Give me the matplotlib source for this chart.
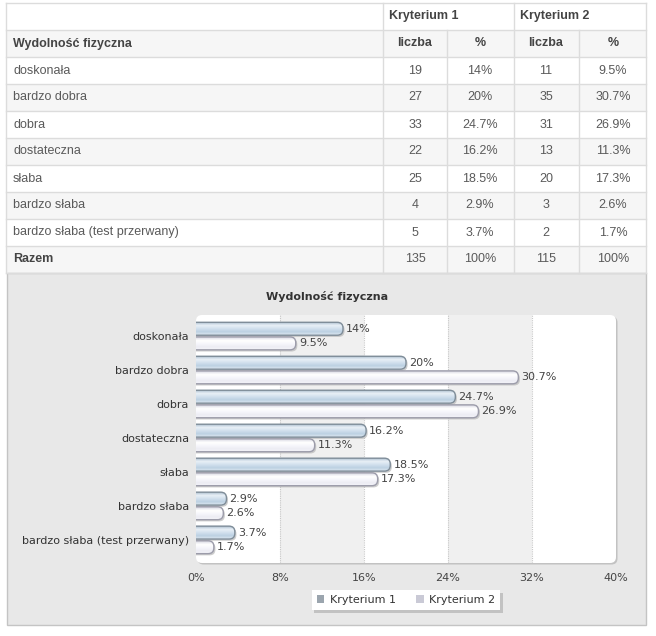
import matplotlib.pyplot as plt
import numpy as np
from matplotlib.patches import Rectangle, FancyBboxPatch, Patch
from matplotlib.colors import to_rgb

# Data
categories = ['doskonała', 'bardzo dobra', 'dobra', 'dostateczna', 'słaba',
              'bardzo słaba', 'bardzo słaba (test przerwany)']
k1_count = [19, 27, 33, 22, 25, 4, 5]
k1_pct = [14, 20, 24.7, 16.2, 18.5, 2.9, 3.7]
k2_count = [11, 35, 31, 13, 20, 3, 2]
k2_pct = [9.5, 30.7, 26.9, 11.3, 17.3, 2.6, 1.7]
totals = [135, 115]
series_names = ['Kryterium 1', 'Kryterium 2']
x_ticks = [0, 8, 16, 24, 32, 40]
title = 'Wydolność fizyczna'

TABLE_FONT = ['Liberation Sans', 'DejaVu Sans']
CHART_FONT = ['DejaVu Sans']

fig = plt.figure(figsize=(6.56, 6.36), dpi=100)
fig.patch.set_facecolor('white')

# Background axes in pixel coordinates for the table and chart panel
bg = fig.add_axes([0, 0, 1, 1])
bg.set_xlim(0, 656)
bg.set_ylim(636, 0)
bg.axis('off')

# --- Table ---
row_h = 27
top = 3
left, right = 6, 646
col_edges = [383, 447, 514, 579]
col_centers = [415, 480, 546, 613]
line_c = '#dcdcdc'
text_c = '#5a5a5a'
head_c = '#444444'

n_rows = 3 + len(categories)
for i in range(n_rows):
    y0 = top + i * row_h
    fc = '#f6f6f6' if i % 2 == 1 else 'white'
    bg.add_patch(Rectangle((left, y0), right - left, row_h, facecolor=fc,
                           edgecolor='none', zorder=1))
    bg.plot([left, right], [y0, y0], color=line_c, lw=1, zorder=2)
bg.plot([left, right], [top + n_rows * row_h] * 2, color=line_c, lw=1, zorder=2)
bg.plot([left, left], [top, top + n_rows * row_h], color=line_c, lw=1, zorder=2)
bg.plot([right, right], [top, top + n_rows * row_h], color=line_c, lw=1, zorder=2)
for j, xe in enumerate(col_edges):
    y_start = top if j % 2 == 0 else top + row_h
    bg.plot([xe, xe], [y_start, top + n_rows * row_h], color=line_c, lw=1, zorder=2)

def cell(x, row, s, ha='center', bold=False):
    bg.text(x, top + row * row_h + row_h / 2, s, ha=ha, va='center',
            fontsize=9, family=TABLE_FONT, color=head_c if bold else text_c,
            fontweight='bold' if bold else 'normal', zorder=3)

cell(389, 0, series_names[0], ha='left', bold=True)
cell(520, 0, series_names[1], ha='left', bold=True)
cell(13, 1, title, ha='left', bold=True)
for cx, s in zip(col_centers, ['liczba', '%', 'liczba', '%']):
    cell(cx, 1, s, bold=True)
for i, cat in enumerate(categories):
    r = i + 2
    cell(13, r, cat, ha='left')
    vals = [str(k1_count[i]), f'{k1_pct[i]:g}%', str(k2_count[i]), f'{k2_pct[i]:g}%']
    for cx, s in zip(col_centers, vals):
        cell(cx, r, s)
r = n_rows - 1
cell(13, r, 'Razem', ha='left', bold=True)
for cx, s in zip(col_centers, [str(totals[0]), '100%', str(totals[1]), '100%']):
    cell(cx, r, s)

# --- Chart panel ---
panel_top = top + n_rows * row_h
bg.add_patch(Rectangle((7, panel_top), 639, 625 - panel_top, facecolor='#e8e8e8',
                       edgecolor='#c4c4c4', lw=1, zorder=1))
bg.text(327, 297, title, ha='center', va='center', fontsize=8,
        fontweight='bold', family=CHART_FONT, color='#333333', zorder=3)

# plot area: shadow + rounded white background
bg.add_patch(FancyBboxPatch((197.5, 316.5), 420, 248, boxstyle='round,pad=0,rounding_size=6',
                            facecolor='#c2c2c2', edgecolor='none', zorder=2))
bg.add_patch(FancyBboxPatch((196, 315), 420, 248, boxstyle='round,pad=0,rounding_size=6',
                            facecolor='white', edgecolor='none', zorder=2.5))

ax = fig.add_axes([196 / 656, (636 - 563) / 636, 420 / 656, 248 / 636])
ax.patch.set_visible(False)
for s in ax.spines.values():
    s.set_visible(False)

y = np.arange(len(categories))
ax.set_xlim(x_ticks[0], x_ticks[-1])
ax.set_ylim(6.68, -0.62)

# alternating vertical bands and dotted grid
for a, b in zip(x_ticks[1::2], x_ticks[2::2]):
    ax.axvspan(a, b, color='#f0f0f0', zorder=0, lw=0)
for xt in x_ticks[1:-1]:
    ax.axvline(xt, color='#c8c8c8', ls=(0, (1, 1)), lw=0.8, zorder=0.5)

bh = 0.38
off = 0.215
b1 = ax.barh(y - off, k1_pct, height=bh, color='none', edgecolor='none', zorder=2)
b2 = ax.barh(y + off, k2_pct, height=bh, color='none', edgecolor='none', zorder=2)

# x units per px vs y units per px, for circular rounding
aspect = (7.3 / 248) / (40 / 420)
grad1 = ['#a9bccd', '#e9f0f7', '#d3e1ee', '#bcd0e2', '#dce7f1']
grad2 = ['#d8d8e2', '#ffffff', '#f7f7fc', '#ececf4', '#f4f4f9']

def styled_bars(bars, grad, edge):
    cols = np.array([to_rgb(c) for c in grad])
    t = np.linspace(0, 1, len(grad))
    tt = np.linspace(0, 1, 40)
    img = np.stack([np.interp(tt, t, cols[:, k]) for k in range(3)], axis=1)[:, None, :]
    for bar in bars:
        x0, y0 = bar.get_x(), bar.get_y()
        w, h = bar.get_width(), bar.get_height()
        start = x0 - 1.0
        # soft shadow
        sh = FancyBboxPatch((start + 0.15, y0 + 0.05), w - start, h,
                            boxstyle='round,pad=0,rounding_size=0.55',
                            mutation_aspect=aspect, facecolor='#b8b8b8',
                            edgecolor='none', zorder=1.5, alpha=0.7)
        ax.add_patch(sh)
        fb = FancyBboxPatch((start, y0), w - start, h,
                            boxstyle='round,pad=0,rounding_size=0.55',
                            mutation_aspect=aspect, facecolor='none',
                            edgecolor=edge, lw=1, zorder=2.2)
        ax.add_patch(fb)
        im = ax.imshow(img, extent=(start, x0 + w, y0 + h, y0), origin='upper',
                       aspect='auto', interpolation='bilinear', zorder=2.1)
        im.set_clip_path(fb)

styled_bars(b1, grad1, '#7f8d99')
styled_bars(b2, grad2, '#9c9caa')
ax.set_xlim(x_ticks[0], x_ticks[-1])
ax.set_ylim(6.68, -0.62)

for bars, vals in ((b1, k1_pct), (b2, k2_pct)):
    for bar, v in zip(bars, vals):
        ax.text(bar.get_width() + 0.3, bar.get_y() + bar.get_height() / 2,
                f'{v:g}%', va='center', ha='left', fontsize=8,
                family=CHART_FONT, color='#444444', zorder=3)

ax.set_yticks(y)
ax.set_yticklabels(categories, fontsize=8, family=CHART_FONT, color='#333333')
ax.set_xticks(x_ticks)
ax.set_xticklabels([f'{t}%' for t in x_ticks], fontsize=8, family=CHART_FONT,
                   color='#444444')
ax.tick_params(length=0)
ax.tick_params(axis='x', pad=7)
ax.tick_params(axis='y', pad=5)

handles = [Patch(facecolor='#9ba5ae', edgecolor='none'),
           Patch(facecolor='#cacad6', edgecolor='none')]
leg = fig.legend(handles, series_names, loc='center',
                 bbox_to_anchor=(406 / 656, 1 - 600 / 636), ncol=2,
                 prop={'family': CHART_FONT, 'size': 8}, frameon=True,
                 fancybox=False, handlelength=0.7, handleheight=0.7,
                 handletextpad=0.5, columnspacing=1.8, borderpad=0.45,
                 shadow={'color': '#aaaaaa', 'alpha': 0.6, 'ox': 2, 'oy': -2})
leg.get_frame().set_edgecolor('white')
leg.get_frame().set_linewidth(0)
for t in leg.get_texts():
    t.set_color('#333333')

fig.savefig('out.png', dpi=100, facecolor='white')
